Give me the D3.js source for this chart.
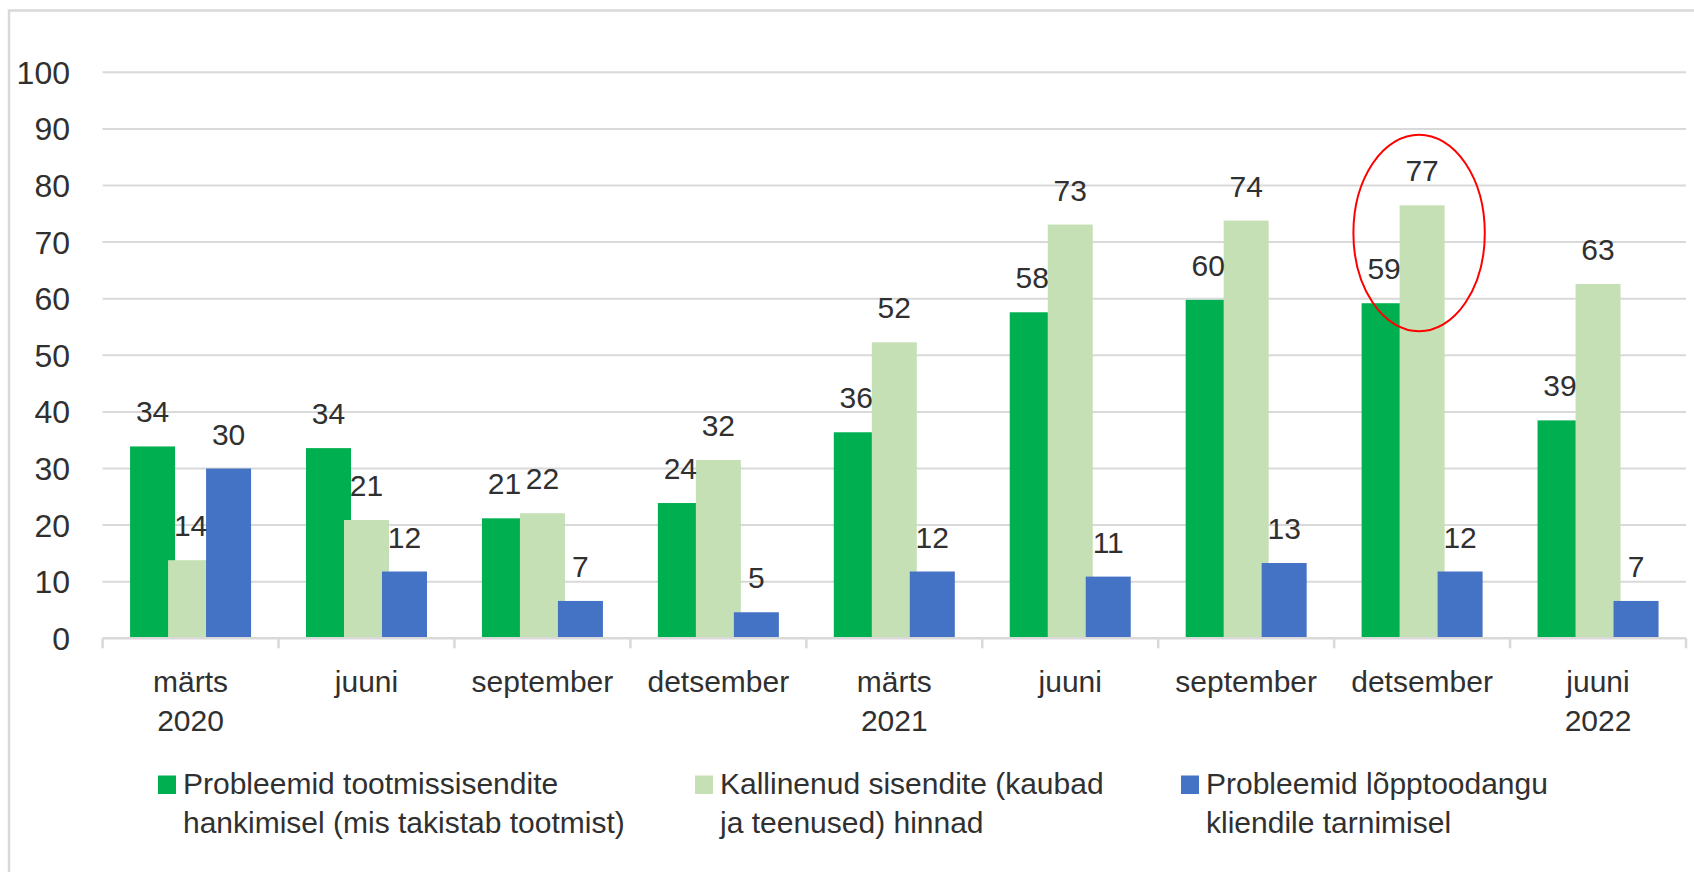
<!doctype html>
<html lang="et">
<head>
    <meta charset="UTF-8">
    <title>Tarneprobleemid</title>
    <script src="https://cdnjs.cloudflare.com/ajax/libs/d3/7.8.5/d3.min.js"></script>
    <style>
        html, body {
            margin: 0;
            padding: 0;
            background: #ffffff;
            overflow: hidden;
        }
        text {
            font-family: "Liberation Sans", Arial, sans-serif;
            fill: #303030;
        }
    </style>
</head>
<body>
<svg id="chart" width="1694" height="872"></svg>
<script>
    // andmed
    const periods = ["märts 2020", "juuni 2020", "september 2020", "detsember 2020",
        "märts 2021", "juuni 2021", "september 2021", "detsember 2021", "juuni 2022"];
    const periodLine1 = ["märts", "juuni", "september", "detsember", "märts", "juuni", "september", "detsember", "juuni"];
    const periodLine2 = ["2020", "", "", "", "2021", "", "", "", "2022"];

    const supplyProblems = [33.9, 33.6, 21.2, 23.9, 36.4, 57.6, 59.8, 59.2, 38.5];
    const pricierInputs = [13.8, 20.9, 22.1, 31.5, 52.3, 73.1, 73.8, 76.5, 62.6];
    const deliveryProblems = [30.0, 11.8, 6.6, 4.6, 11.8, 10.9, 13.3, 11.8, 6.6];

    const seriesNames = [
        ["Probleemid tootmissisendite", "hankimisel (mis takistab tootmist)"],
        ["Kallinenud sisendite (kaubad", "ja teenused) hinnad"],
        ["Probleemid lõpptoodangu", "kliendile tarnimisel"]
    ];
    const seriesColors = ["#00b050", "#c5e0b4", "#4472c4"];
    const yTicks = [0, 10, 20, 30, 40, 50, 60, 70, 80, 90, 100];

    const series = [supplyProblems, pricierInputs, deliveryProblems];

    const svg = d3.select("#chart");
    const plotLeft = 102.6, plotRight = 1686, plotTop = 72.3, plotBottom = 638.3;

    // raam
    svg.append("rect")
        .attr("x", 9).attr("y", 10.5)
        .attr("width", 1700).attr("height", 900)
        .attr("fill", "none")
        .attr("stroke", "#d9d9d9")
        .attr("stroke-width", 2.5);

    const x0 = d3.scaleBand().domain(periods).range([plotLeft, plotRight]).padding(0);
    const y = d3.scaleLinear().domain([0, 100]).range([plotBottom, plotTop]);

    const barW = 45, barStep = 38;
    const x1 = d3.scaleLinear().domain([0, 2]).range([-60.5, -60.5 + 2 * barStep]);

    const g = svg.append("g");

    // ruudustik
    g.selectAll(".grid")
        .data(yTicks.filter(d => d > 0))
        .enter().append("line")
        .attr("x1", plotLeft).attr("x2", plotRight)
        .attr("y1", d => y(d)).attr("y2", d => y(d))
        .attr("stroke", "#d9d9d9")
        .attr("stroke-width", 2);

    // y telg
    g.selectAll(".ylab")
        .data(yTicks)
        .enter().append("text")
        .attr("x", 70)
        .attr("y", d => y(d))
        .attr("dy", "0.36em")
        .attr("text-anchor", "end")
        .style("font-size", "32px")
        .text(d => d);

    // tulbad
    series.forEach((vals, si) => {
        g.selectAll(".bar" + si)
            .data(vals)
            .enter().append("rect")
            .attr("x", (d, i) => x0(periods[i]) + x0.bandwidth() / 2 + x1(si))
            .attr("y", d => y(d))
            .attr("width", barW)
            .attr("height", d => y(0) - y(d))
            .attr("fill", seriesColors[si]);
    });

    // x telg
    g.append("line")
        .attr("x1", plotLeft).attr("x2", plotRight)
        .attr("y1", plotBottom).attr("y2", plotBottom)
        .attr("stroke", "#d9d9d9")
        .attr("stroke-width", 2.5);

    const bounds = periods.map(p => x0(p)).concat([plotRight]);
    g.selectAll(".tick")
        .data(bounds)
        .enter().append("line")
        .attr("x1", d => d).attr("x2", d => d)
        .attr("y1", plotBottom).attr("y2", plotBottom + 10)
        .attr("stroke", "#d9d9d9")
        .attr("stroke-width", 2.5);

    const xl = g.selectAll(".xlab")
        .data(periods)
        .enter().append("text")
        .attr("x", d => x0(d) + x0.bandwidth() / 2)
        .attr("y", 691.5)
        .attr("text-anchor", "middle")
        .style("font-size", "30px");
    xl.append("tspan").text((d, i) => periodLine1[i]);
    xl.append("tspan")
        .attr("x", d => x0(d) + x0.bandwidth() / 2)
        .attr("dy", 39)
        .text((d, i) => periodLine2[i]);

    // väärtused
    series.forEach((vals, si) => {
        g.selectAll(".lab" + si)
            .data(vals)
            .enter().append("text")
            .attr("x", (d, i) => x0(periods[i]) + x0.bandwidth() / 2 + x1(si) + barW / 2)
            .attr("y", d => y(d) - 24)
            .attr("text-anchor", "middle")
            .style("font-size", "30px")
            .text(d => d3.format(".0f")(d));
    });

    // punane ring
    const hl = periods[7];
    g.append("ellipse")
        .attr("cx", x0(hl) + x0.bandwidth() / 2 - 3)
        .attr("cy", y(71.6))
        .attr("rx", 65.7)
        .attr("ry", 98.3)
        .attr("fill", "none")
        .attr("stroke", "#ff0000")
        .attr("stroke-width", 2);

    // legend
    const legendX = [158, 695, 1181];
    seriesNames.forEach((lines, si) => {
        const lg = svg.append("g").attr("transform", "translate(" + legendX[si] + ",0)");
        lg.append("rect")
            .attr("x", 0).attr("y", 775.5)
            .attr("width", 18).attr("height", 18.5)
            .attr("fill", seriesColors[si]);
        const t = lg.append("text")
            .attr("x", 25).attr("y", 794.3)
            .style("font-size", "30px");
        t.append("tspan").text(lines[0]);
        t.append("tspan").attr("x", 25).attr("dy", 39).text(lines[1]);
    });
</script>
</body>
</html>
